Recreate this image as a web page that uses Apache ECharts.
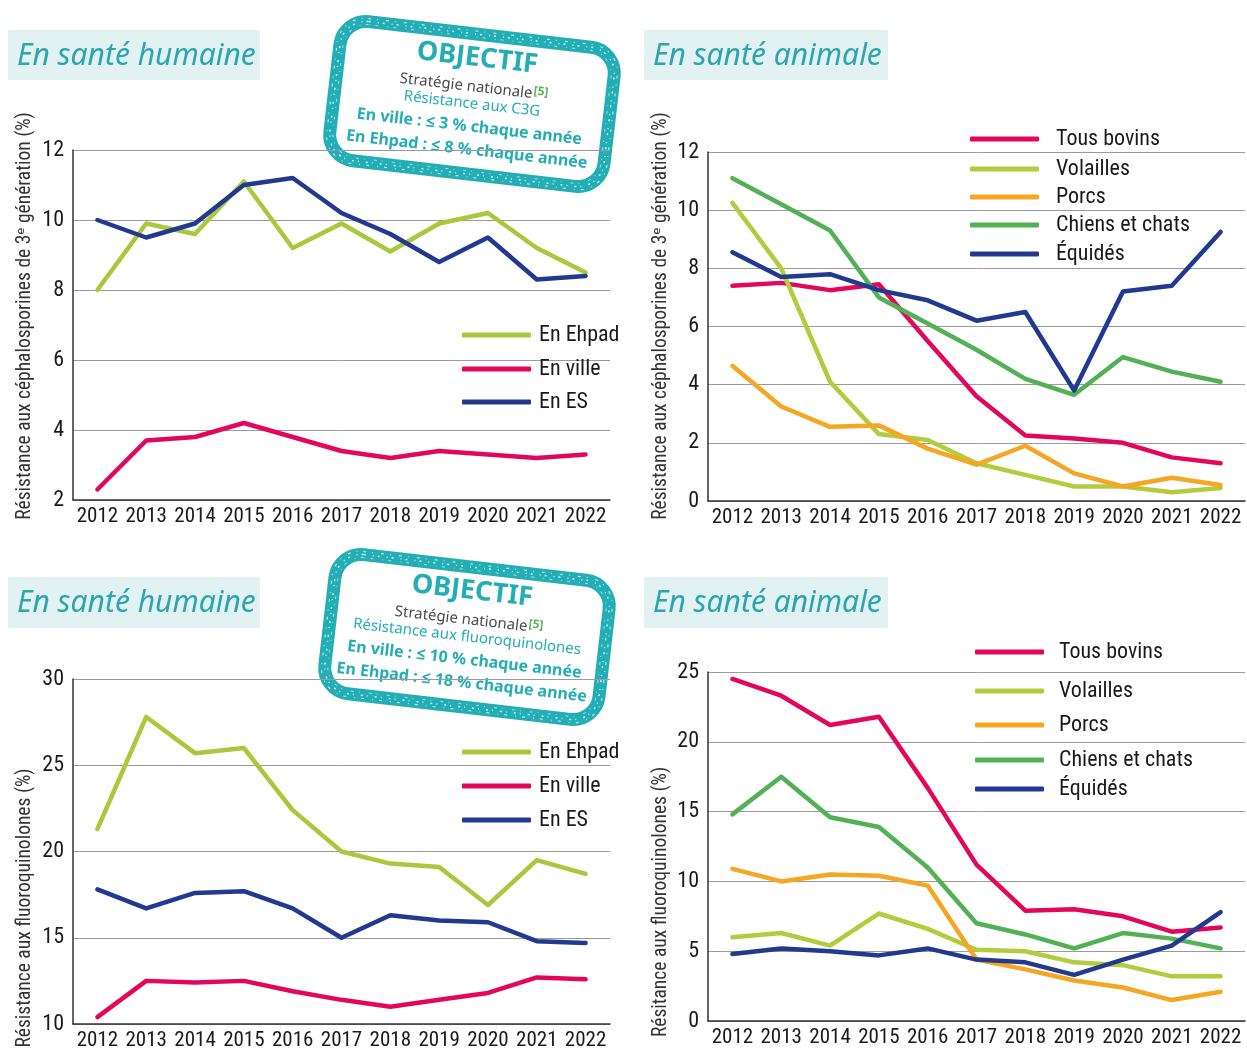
<!DOCTYPE html>
<html><head><meta charset="utf-8">
<script src="https://cdn.jsdelivr.net/npm/echarts@6/dist/echarts.min.js"></script>
<style>html,body{margin:0;padding:0;background:#fff}#c{width:1247px;height:1051px}</style>
</head><body><div id="c"></div>
<script>
// ---------- DATA ----------
const years = ['2012','2013','2014','2015','2016','2017','2018','2019','2020','2021','2022'];

// Santé humaine – C3G (%)
const c3gHumEhpad = [8.0, 9.9, 9.6, 11.1, 9.2, 9.9, 9.1, 9.9, 10.2, 9.2, 8.5];
const c3gHumVille = [2.3, 3.7, 3.8, 4.2, 3.8, 3.4, 3.2, 3.4, 3.3, 3.2, 3.3];
const c3gHumES    = [10.0, 9.5, 9.9, 11.0, 11.2, 10.2, 9.6, 8.8, 9.5, 8.3, 8.4];

// Santé animale – C3G (%)
const c3gAniBovins  = [7.4, 7.5, 7.25, 7.45, 5.5, 3.6, 2.25, 2.15, 2.0, 1.5, 1.3];
const c3gAniVolaill = [10.25, 8.0, 4.1, 2.3, 2.1, 1.3, 0.9, 0.5, 0.5, 0.3, 0.45];
const c3gAniPorcs   = [4.65, 3.25, 2.55, 2.6, 1.8, 1.25, 1.9, 0.95, 0.5, 0.8, 0.55];
const c3gAniChiens  = [11.1, 10.2, 9.3, 7.0, 6.1, 5.2, 4.2, 3.65, 4.95, 4.45, 4.1];
const c3gAniEquides = [8.55, 7.7, 7.8, 7.25, 6.9, 6.2, 6.5, 3.8, 7.2, 7.4, 9.25];

// Santé humaine – fluoroquinolones (%)
const fqHumEhpad = [21.3, 27.8, 25.7, 26.0, 22.4, 20.0, 19.3, 19.1, 16.9, 19.5, 18.7];
const fqHumVille = [10.4, 12.5, 12.4, 12.5, 11.9, 11.4, 11.0, 11.4, 11.8, 12.7, 12.6];
const fqHumES    = [17.8, 16.7, 17.6, 17.7, 16.7, 15.0, 16.3, 16.0, 15.9, 14.8, 14.7];

// Santé animale – fluoroquinolones (%)
const fqAniBovins  = [24.5, 23.3, 21.2, 21.8, 16.7, 11.2, 7.9, 8.0, 7.5, 6.4, 6.7];
const fqAniVolaill = [6.0, 6.3, 5.4, 7.7, 6.6, 5.1, 5.0, 4.2, 4.0, 3.2, 3.2];
const fqAniPorcs   = [10.9, 10.0, 10.5, 10.4, 9.7, 4.4, 3.7, 2.9, 2.4, 1.5, 2.1];
const fqAniChiens  = [14.8, 17.5, 14.6, 13.9, 11.0, 7.0, 6.2, 5.2, 6.3, 5.9, 5.2];
const fqAniEquides = [4.8, 5.2, 5.0, 4.7, 5.2, 4.4, 4.2, 3.3, 4.4, 5.4, 7.8];

// Axis ranges [min, max, interval]
const yRange1 = [2, 12, 2];
const yRange2 = [0, 12, 2];
const yRange3 = [10, 30, 5];
const yRange4 = [0, 25, 5];

// Texts
const titleHum = 'En santé humaine';
const titleAni = 'En santé animale';
const nameC3G = 'Résistance aux céphalosporines de 3ᵉ génération (%)';
const nameFQ1 = 'Résistance aux fluoroquinolones (%)';
const nameFQ2 = 'Résitance aux fluoroquinolones (%)';
const humNames = ['En Ehpad', 'En ville', 'En ES'];
const aniNames = ['Tous bovins', 'Volailles', 'Porcs', 'Chiens et chats', 'Équidés'];

// ---------- STYLE ----------
const FAM = "'Roboto Condensed','Open Sans Condensed','Noto Sans Condensed','Noto Sans',Roboto,sans-serif";
const STRETCH = 'condensed';
const SANS = "'Noto Sans','Open Sans',sans-serif";
const C = {ehpad:'#a9c83c', ville:'#e3075c', es:'#213a8f', bovins:'#e3075c', volaill:'#b2cc3e', porcs:'#f5a623', chiens:'#52b154', equides:'#213a8f'};
const TEAL = '#23adb5';
const TITLE_TEAL = '#2ba5ae';

const grids = [
  {left:73, right:637, top:150, bottom:551},
  {left:708, right:2, top:152, bottom:550},
  {left:73, right:637, top:679, bottom:24},
  {left:708, right:2, top:672, bottom:30}
];

function xAxis(i){
  return {type:'category', gridIndex:i, data:years, boundaryGap:true,
    axisLine:{show:true, lineStyle:{color:'#333', width:1.5}},
    axisTick:{show:false},
    axisLabel:{interval:0, fontFamily:FAM, fontStyle:STRETCH, fontSize:21, color:'#1a1a1a', margin:6}};
}
function yAxis(i, r){
  return {type:'value', gridIndex:i, min:r[0], max:r[1], interval:r[2],
    axisLine:{show:true, lineStyle:{color:'#333', width:1.5}},
    axisTick:{show:false},
    splitLine:{show:true, lineStyle:{color:'#9b9b9b', width:1}},
    axisLabel:{fontFamily:FAM, fontStyle:STRETCH, fontSize:22, color:'#1a1a1a', margin:9}};
}
function line(name, data, color, i){
  return {type:'line', name, data, xAxisIndex:i, yAxisIndex:i, symbol:'none',
    color, itemStyle:{color}, lineStyle:{color, width:4.5, cap:'round', join:'round'}};
}
function legendItem(name, left, cy, textPad){
  return {data:[name], left, top:cy-12, orient:'vertical', icon:'roundRect',
    itemWidth:69, itemHeight:5, selectedMode:false, padding:0,
    itemStyle:{borderWidth:0},
    textStyle:{fontFamily:FAM, fontStyle:STRETCH, fontSize:22, color:'#1a1a1a', lineHeight:24, padding:[0,0,0,textPad]}};
}
function titleBox(x, y, w, h, text){
  return {type:'group', children:[
    {type:'rect', shape:{x, y, width:w, height:h}, style:{fill:'#e2f1f1'}},
    {type:'text', style:{text, x:x+9, y:y+h/2+1, font:"italic 30px "+SANS, fill:TITLE_TEAL, textAlign:'left', textVerticalAlign:'middle'}}
  ]};
}
function vname(text, x, y){
  return {type:'text', x, y, rotation:Math.PI/2,
    style:{text, font:STRETCH+" 19.5px "+FAM, fill:'#333', textAlign:'center', textVerticalAlign:'middle'}, z:10};
}
function stamp(cx, cy, rot, lines3){
  const t = (text, y, font, fill) => ({type:'text', style:{text, x:0, y, font, fill, textAlign:'center', textVerticalAlign:'middle'}});
  const w = 276, h = 140;
  return {type:'group', x:cx, y:cy, rotation:rot, z:50, children:[
    {type:'rect', shape:{x:-w/2, y:-h/2, width:w, height:h, r:26}, style:{fill:'#fff', stroke:TEAL, lineWidth:13}},
    {type:'rect', shape:{x:-w/2, y:-h/2, width:w, height:h, r:26}, style:{fill:'none', stroke:'rgba(255,255,255,0.8)', lineWidth:1.5, lineDash:[2,7,1,4]}},
    {type:'rect', shape:{x:-w/2+3, y:-h/2+3, width:w-6, height:h-6, r:24}, style:{fill:'none', stroke:'rgba(255,255,255,0.6)', lineWidth:1, lineDash:[1,5,3,9]}},
    {type:'rect', shape:{x:-w/2-3, y:-h/2-3, width:w+6, height:h+6, r:28}, style:{fill:'none', stroke:'rgba(255,255,255,0.7)', lineWidth:1.2, lineDash:[3,6,1,8]}},
    t('OBJECTIF', -46, "bold 27px "+SANS, TEAL),
    {type:'text', style:{text:'{g|Stratégie nationale}{s|[5]}', x:0, y:-17, textAlign:'center', textVerticalAlign:'middle',
      rich:{g:{font:"15px "+SANS, fill:'#4a4a4a', lineHeight:18}, s:{font:"bold 12px "+SANS, fill:'#5ab552', verticalAlign:'top', lineHeight:18, padding:[0,0,10,1]}}}},
    t(lines3[0], 0, "15px "+SANS, TEAL),
    t(lines3[1], 23, "bold 16px "+SANS, TEAL),
    t(lines3[2], 46, "bold 16px "+SANS, TEAL)
  ]};
}

const series = [
  line(humNames[0], c3gHumEhpad, C.ehpad, 0),
  line(humNames[1], c3gHumVille, C.ville, 0),
  line(humNames[2], c3gHumES, C.es, 0),
  line(aniNames[0], c3gAniBovins, C.bovins, 1),
  line(aniNames[1], c3gAniVolaill, C.volaill, 1),
  line(aniNames[2], c3gAniPorcs, C.porcs, 1),
  line(aniNames[3], c3gAniChiens, C.chiens, 1),
  line(aniNames[4], c3gAniEquides, C.equides, 1),
  line(humNames[0], fqHumEhpad, C.ehpad, 2),
  line(humNames[1], fqHumVille, C.ville, 2),
  line(humNames[2], fqHumES, C.es, 2),
  line(aniNames[0], fqAniBovins, C.bovins, 3),
  line(aniNames[1], fqAniVolaill, C.volaill, 3),
  line(aniNames[2], fqAniPorcs, C.porcs, 3),
  line(aniNames[3], fqAniChiens, C.chiens, 3),
  line(aniNames[4], fqAniEquides, C.equides, 3)
];

const legends = [];
[335, 369, 402].forEach((y,k)=>legends.push(legendItem(humNames[k], 462, y, 3)));
[139, 169, 197, 225, 254].forEach((y,k)=>legends.push(legendItem(aniNames[k], 970, y, 12)));
[752, 786, 820].forEach((y,k)=>legends.push(legendItem(humNames[k], 462, y, 3)));
[652, 691, 725, 760, 789].forEach((y,k)=>legends.push(legendItem(aniNames[k], 975, y, 10)));

const option = {
  animation:false,
  backgroundColor:'#fff',
  grid: grids,
  xAxis: [0,1,2,3].map(xAxis),
  yAxis: [yAxis(0,yRange1), yAxis(1,yRange2), yAxis(2,yRange3), yAxis(3,yRange4)],
  legend: legends,
  series,
  graphic: [
    titleBox(8, 30, 252, 50, titleHum),
    titleBox(644, 30, 244, 50, titleAni),
    titleBox(8, 577, 252, 51, titleHum),
    titleBox(644, 577, 244, 51, titleAni),
    vname(nameC3G, 25, 316),
    vname(nameC3G, 661, 316),
    vname(nameFQ1, 25, 908),
    vname(nameFQ2, 661, 902),
    stamp(472, 104, -0.115, ['Résistance aux C3G', 'En ville : ≤ 3 % chaque année', 'En Ehpad : ≤ 8 % chaque année']),
    stamp(467, 637, -0.115, ['Résistance aux fluoroquinolones', 'En ville : ≤ 10 % chaque année', 'En Ehpad : ≤ 18 % chaque année'])
  ]
};
const chart = echarts.init(document.getElementById('c'), null, {renderer:'canvas'});
chart.setOption(option);
</script>
</body></html>
